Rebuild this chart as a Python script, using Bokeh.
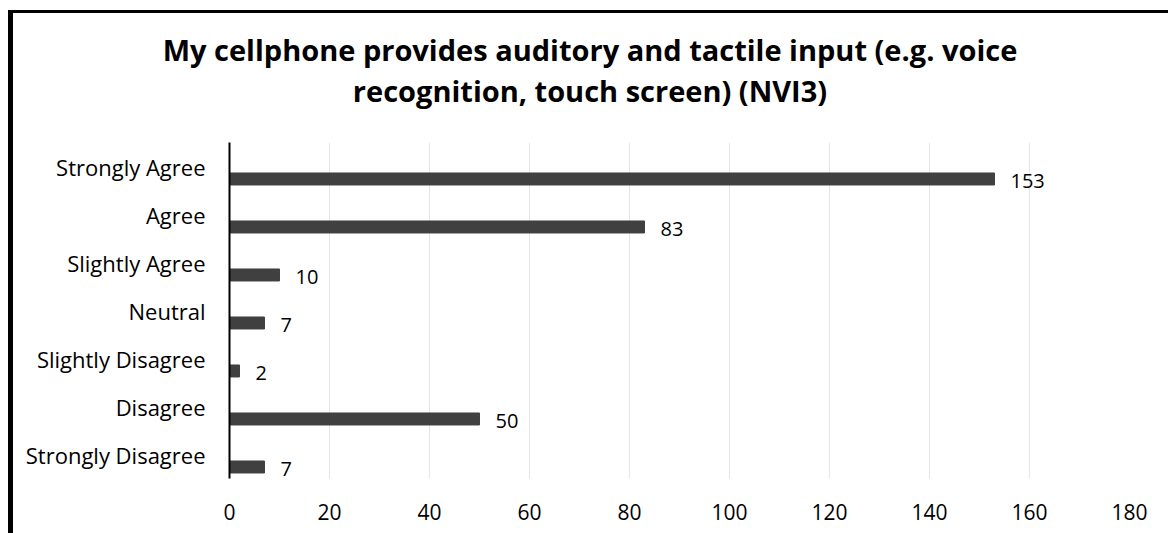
from bokeh.plotting import figure
from bokeh.models import ColumnDataSource, FactorRange, Range1d, FixedTicker, Div
from bokeh.layouts import row, column
from bokeh.transform import dodge
from bokeh.core.properties import value
from bokeh.embed import file_html
from bokeh.resources import INLINE

# ---- data ----
categories = ["Strongly Disagree", "Disagree", "Slightly Disagree", "Neutral",
              "Slightly Agree", "Agree", "Strongly Agree"]
counts = [7, 50, 2, 7, 10, 83, 153]
x_ticks = [0, 20, 40, 60, 80, 100, 120, 140, 160, 180]
title_lines = ["My cellphone provides auditory and tactile input (e.g. voice",
               "recognition, touch screen) (NVI3)"]

FONT = "Open Sans"
W, H = 1147, 412

src = ColumnDataSource(data=dict(cat=categories, val=counts,
                                 lab=[str(v) for v in counts]))

p = figure(width=W, height=H, output_backend="svg", toolbar_location=None,
           y_range=FactorRange(*categories), x_range=Range1d(0, 180),
           min_border_left=216, min_border_right=31,
           min_border_top=29, min_border_bottom=47, margin=(0, 0, 0, 0))
p.outline_line_color = None
p.background_fill_color = "white"
p.border_fill_color = "white"

p.hbar(y=dodge("cat", -0.26, range=p.y_range), left=0, right="val",
       height=0.25, source=src, fill_color="#404040", line_color="#404040")

p.text(x="val", y=dodge("cat", -0.31, range=p.y_range), text="lab", source=src,
       x_offset=16, text_baseline="middle", text_align="left",
       text_font=value(FONT), text_font_size="20px", text_color="#000000")

# axes
p.xaxis.ticker = FixedTicker(ticks=x_ticks)
p.xaxis.axis_line_color = None
p.xaxis.major_tick_line_color = None
p.xaxis.minor_tick_line_color = None
p.xaxis.major_label_standoff = 19
p.xaxis.major_label_text_font = FONT
p.xaxis.major_label_text_font_size = "21px"
p.xaxis.major_label_text_color = "#000000"

p.yaxis.axis_line_color = "black"
p.yaxis.axis_line_width = 2
p.yaxis.major_tick_line_color = None
p.yaxis.minor_tick_line_color = None
p.yaxis.major_label_standoff = 18
p.yaxis.major_label_text_font = FONT
p.yaxis.major_label_text_font_size = "22px"
p.yaxis.major_label_text_color = "#000000"

p.xgrid.grid_line_color = "#e6e6e6"
p.xgrid.grid_line_width = 1
p.ygrid.grid_line_color = None

# chart-area border (left and top edges, continuing past the window) and title
left_border = Div(width=5, height=523, margin=(10, 0, 0, 8),
                  styles={"background-color": "black"})
top_border = Div(width=W + 8, height=3, margin=(10, 0, 0, 0),
                 styles={"background-color": "black"})
title_html = ('<div style="width:%dpx;box-sizing:border-box;text-align:center;'
              'font-family:\'Open Sans\';font-weight:bold;font-size:29px;'
              'line-height:41px;padding-top:16px;padding-left:7px;color:#000;'
              'white-space:nowrap;">' % W
              + "<br>".join(title_lines) + "</div>")
title = Div(text=title_html, width=W, height=100, margin=(0, 0, 0, 0))

layout = row(left_border, column(top_border, title, p, spacing=0), spacing=0)

open("out.html", "w").write(file_html(layout, INLINE))
